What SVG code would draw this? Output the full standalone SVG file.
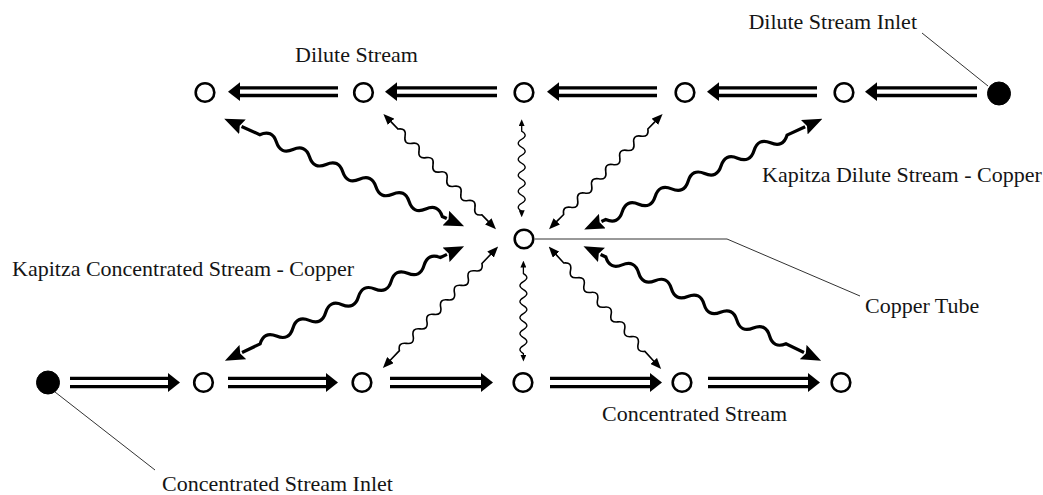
<svg xmlns="http://www.w3.org/2000/svg" width="1043" height="495" viewBox="0 0 1043 495">
<style>
.bg{fill:#fff}
.lbl{font-family:"Liberation Serif","Times New Roman",serif;font-size:22px;fill:#151515}
.node{fill:#fff;stroke:#000;stroke-width:2.6}
.inlet{fill:#000;stroke:#000;stroke-width:1}
.dbl{fill:none;stroke:#000;stroke-width:3.4}
.head{fill:#000}
.wthick{fill:none;stroke:#000;stroke-width:3.2;marker-start:url(#hk);marker-end:url(#hk)}
.wthin{fill:none;stroke:#000;stroke-width:1.6;marker-start:url(#hn);marker-end:url(#hn)}
.wvert{fill:none;stroke:#000;stroke-width:1.3;marker-start:url(#hv);marker-end:url(#hv)}
.leader{fill:none;stroke:#333;stroke-width:1}
</style>
<defs>
<marker id="hk" markerUnits="userSpaceOnUse" viewBox="0 0 20 16" markerWidth="20" markerHeight="16" refX="1" refY="8" orient="auto-start-reverse"><path d="M0,0 L20,8 L0,16 L3,8 z" fill="#000"/></marker>
<marker id="hn" markerUnits="userSpaceOnUse" viewBox="0 0 11 9" markerWidth="11" markerHeight="9" refX="1" refY="4.5" orient="auto-start-reverse"><path d="M0,0 L11,4.5 L0,9 z" fill="#000"/></marker>
<marker id="hv" markerUnits="userSpaceOnUse" viewBox="0 0 7 6" markerWidth="7" markerHeight="6" refX="1" refY="3" orient="auto-start-reverse"><path d="M0,0 L7,3 L0,6 z" fill="#000"/></marker>
</defs>
<rect class="bg" x="0" y="0" width="1043" height="495"/>

<g id="connectors">
  <g id="dilute-flow">
    <path class="dbl" d="M338,87.9 H236 M338,95.5 H236"/><polygon class="head" points="228,91.7 240,82.3 240,101.1"/>
    <path class="dbl" d="M497,87.9 H393 M497,95.5 H393"/><polygon class="head" points="385,91.7 397,82.3 397,101.1"/>
    <path class="dbl" d="M657,87.9 H555 M657,95.5 H555"/><polygon class="head" points="547,91.7 559,82.3 559,101.1"/>
    <path class="dbl" d="M817,87.9 H715 M817,95.5 H715"/><polygon class="head" points="707,91.7 719,82.3 719,101.1"/>
    <path class="dbl" d="M977,87.9 H873 M977,95.5 H873"/><polygon class="head" points="865,91.7 877,82.3 877,101.1"/>
  </g>
  <g id="conc-flow">
    <path class="dbl" d="M70,378.4 H172 M70,386.6 H172"/><polygon class="head" points="180,382.5 168,373 168,392"/>
    <path class="dbl" d="M228,378.4 H330 M228,386.6 H330"/><polygon class="head" points="338,382.5 326,373 326,392"/>
    <path class="dbl" d="M390,378.4 H485 M390,386.6 H485"/><polygon class="head" points="493,382.5 481,373 481,392"/>
    <path class="dbl" d="M550,378.4 H654 M550,386.6 H654"/><polygon class="head" points="662,382.5 650,373 650,392"/>
    <path class="dbl" d="M708,378.4 H812 M708,386.6 H812"/><polygon class="head" points="820,382.5 808,373 808,392"/>
  </g>
  <path class="wthick" transform="translate(223.3,118.3) rotate(24.15)" d="M20,0 L40,0 q9.09,-10 18.18,0 t18.18,0 t18.18,0 t18.18,0 t18.18,0 t18.18,0 t18.18,0 t18.18,0 t18.18,0 t18.18,0 t18.18,0 L244.9,0"/>
  <path class="wthick" transform="translate(823.3,118.3) rotate(155.05)" d="M20,0 L40,0 q9.09,-10 18.18,0 t18.18,0 t18.18,0 t18.18,0 t18.18,0 t18.18,0 t18.18,0 t18.18,0 t18.18,0 t18.18,0 t18.18,0 L244.7,0"/>
  <path class="wthick" transform="translate(224,361.2) rotate(-25.59)" d="M20,0 L40,0 q9.09,-10 18.18,0 t18.18,0 t18.18,0 t18.18,0 t18.18,0 t18.18,0 t18.18,0 t18.18,0 t18.18,0 t18.18,0 t18.18,0 L247.2,0"/>
  <path class="wthick" transform="translate(822,361.2) rotate(-154.26)" d="M20,0 L40,0 q9.09,-10 18.18,0 t18.18,0 t18.18,0 t18.18,0 t18.18,0 t18.18,0 t18.18,0 t18.18,0 t18.18,0 t18.18,0 t18.18,0 L245.8,0"/>
  <path class="wthin" transform="translate(382.7,113.3) rotate(45.67)" d="M11,0 L22,0 q5,-7 10,0 t10,0 t10,0 t10,0 t10,0 t10,0 t10,0 t10,0 t10,0 t10,0 t10,0 t10,0 L152.1,0"/>
  <path class="wthin" transform="translate(663.3,113.3) rotate(134.58)" d="M11,0 L22,0 q5,-7 10,0 t10,0 t10,0 t10,0 t10,0 t10,0 t10,0 t10,0 t10,0 t10,0 t10,0 t10,0 L152.8,0"/>
  <path class="wthin" transform="translate(382.2,368.8) rotate(-46.53)" d="M11,0 L25,0 q5,-7 10,0 t10,0 t10,0 t10,0 t10,0 t10,0 t10,0 t10,0 t10,0 t10,0 t10,0 t10,0 L158.5,0"/>
  <path class="wthin" transform="translate(661.8,369.8) rotate(-132.54)" d="M11,0 L25,0 q5,-7 10,0 t10,0 t10,0 t10,0 t10,0 t10,0 t10,0 t10,0 t10,0 t10,0 t10,0 t10,0 L157.3,0"/>
  <path class="wvert" transform="translate(521.7,118.3) rotate(90)" d="M7,0 L13,0 q4,-7 8,0 t8,0 t8,0 t8,0 t8,0 t8,0 t8,0 t8,0 t8,0 t8,0 L93,0"/>
  <path class="wvert" transform="translate(523.4,259.6) rotate(90)" d="M7,0 L14,0 q4,-7 8,0 t8,0 t8,0 t8,0 t8,0 t8,0 t8,0 t8,0 t8,0 t8,0 L96,0"/>
  <path class="leader" d="M922,33 L988,86"/>
  <path class="leader" d="M535,239 H727 L860,296"/>
  <path class="leader" d="M55,392 L155,470"/>
</g>

<g id="dilute-inlet"><circle class="inlet" cx="999" cy="93.5" r="11.5"/></g>
<g id="d1"><circle class="node" cx="844" cy="92.5" r="9.3"/></g>
<g id="d2"><circle class="node" cx="685" cy="92.5" r="9.3"/></g>
<g id="d3"><circle class="node" cx="524" cy="92.5" r="9.3"/></g>
<g id="d4"><circle class="node" cx="363.5" cy="92.5" r="9.3"/></g>
<g id="d5"><circle class="node" cx="205" cy="92.5" r="9.3"/></g>

<g id="copper-tube"><circle class="node" cx="524" cy="239" r="9.3"/></g>

<g id="conc-inlet"><circle class="inlet" cx="48" cy="382.5" r="11.5"/></g>
<g id="c1"><circle class="node" cx="203.5" cy="382.5" r="9.3"/></g>
<g id="c2"><circle class="node" cx="362" cy="382.5" r="9.3"/></g>
<g id="c3"><circle class="node" cx="523" cy="382.5" r="9.3"/></g>
<g id="c4"><circle class="node" cx="682" cy="382.5" r="9.3"/></g>
<g id="c5"><circle class="node" cx="841" cy="382.5" r="9.3"/></g>

<g id="labels">
  <text class="lbl" x="295" y="61.5">Dilute Stream</text>
  <text class="lbl" x="917" y="29" text-anchor="end">Dilute Stream Inlet</text>
  <text class="lbl" x="762" y="182">Kapitza Dilute Stream - Copper</text>
  <text class="lbl" x="12" y="276">Kapitza Concentrated Stream - Copper</text>
  <text class="lbl" x="865" y="313">Copper Tube</text>
  <text class="lbl" x="602" y="421">Concentrated Stream</text>
  <text class="lbl" x="162" y="491">Concentrated Stream Inlet</text>
</g>
</svg>
